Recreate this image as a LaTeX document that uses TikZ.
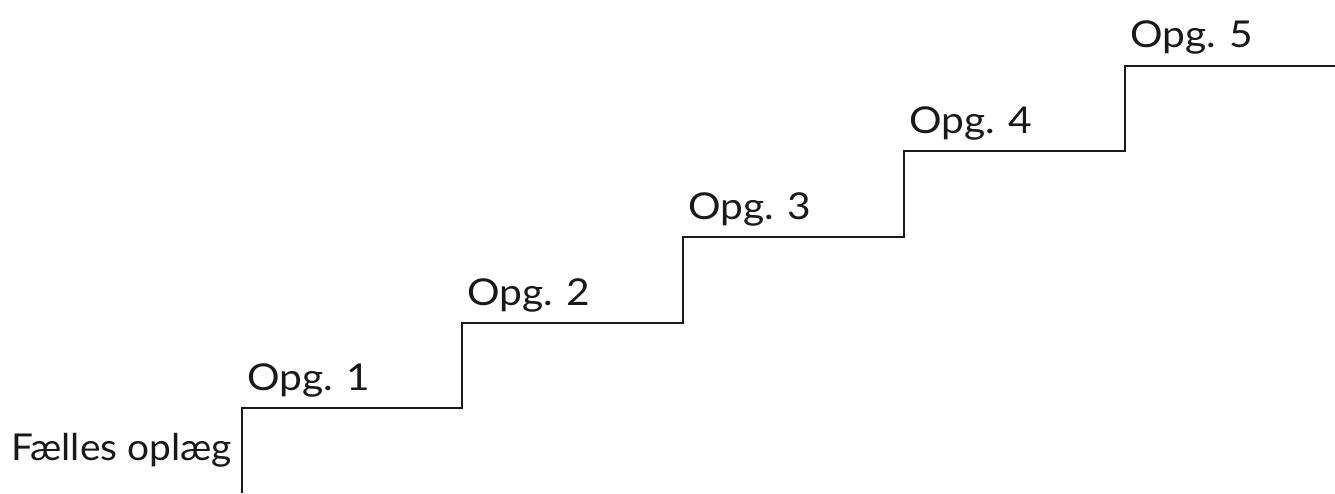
\documentclass[tikz,border=0pt]{standalone}
\usepackage{fontspec}
\setmainfont{Lato}[FakeStretch=1.1]
\newfontfamily\narrowlato{Lato}[FakeStretch=1.05]
\begin{document}
\begin{tikzpicture}[x=1pt,y=-1pt,
  stair/.style={line width=2.6pt,line join=miter,color=black!90},
  lbl/.style={anchor=base west,inner sep=0pt,font=\fontsize{37}{40}\selectfont,text=black!90}]
\useasboundingbox (0,0) rectangle (1335,493);
\coordinate (s0) at (242,493);
\coordinate (s1) at (242,408);
\coordinate (s2) at (462,408);
\coordinate (s3) at (462,323);
\coordinate (s4) at (683,323);
\coordinate (s5) at (683,237);
\coordinate (s6) at (904,237);
\coordinate (s7) at (904,151);
\coordinate (s8) at (1125,151);
\coordinate (s9) at (1125,66);
\coordinate (s10) at (1340,66);
\draw[stair] (s0) -- (s1) -- (s2) -- (s3) -- (s4) -- (s5) -- (s6) -- (s7) -- (s8) -- (s9) -- (s10);
\node[lbl,anchor=base east,font=\narrowlato\fontsize{37}{40}\selectfont] (f) at (232,460) {Fælles oplæg};
\node[lbl] (o1) at (247,390) {Opg. 1};
\node[lbl] (o2) at (467,305) {Opg. 2};
\node[lbl] (o3) at (688,219) {Opg. 3};
\node[lbl] (o4) at (909,133) {Opg. 4};
\node[lbl] (o5) at (1130,47) {Opg. 5};
\end{tikzpicture}
\end{document}
